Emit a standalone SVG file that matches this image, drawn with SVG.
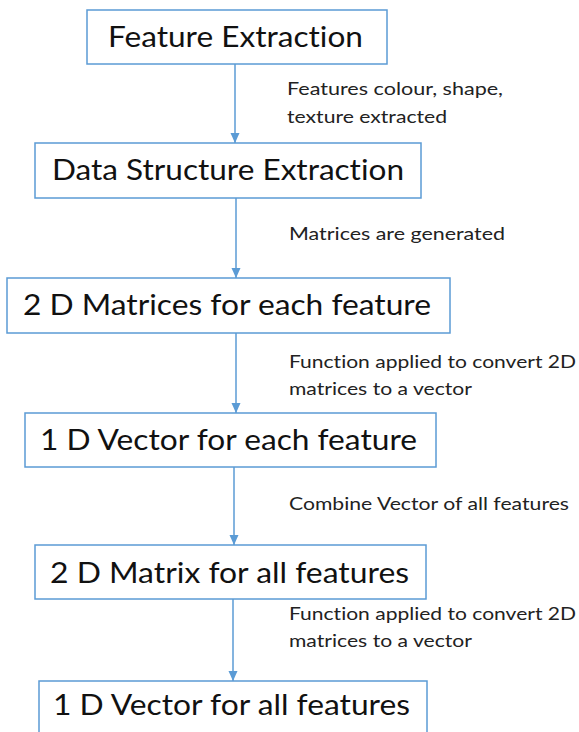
<svg xmlns="http://www.w3.org/2000/svg" width="579" height="732" viewBox="0 0 579 732">
<defs>
<marker id="arr" markerUnits="userSpaceOnUse" markerWidth="10" markerHeight="10" viewBox="0 0 10 10" refX="10" refY="5" orient="auto">
<path d="M0,0.5 L10,5 L0,9.5 Z" fill="#5B9BD5"/>
</marker>
<style>
.box{fill:#fff;stroke:#5B9BD5;stroke-width:1.5}
.t{font-family:Lato,"Open Sans","Liberation Sans",sans-serif;font-size:29px;fill:#111;font-variant-ligatures:none;font-feature-settings:"liga" 0}
.l{font-family:Lato,"Open Sans","Liberation Sans",sans-serif;font-size:17px;fill:#222;font-variant-ligatures:none;font-feature-settings:"liga" 0}
.c{stroke:#5B9BD5;stroke-width:1.5;fill:none;marker-end:url(#arr)}
</style>
</defs>
<rect width="579" height="732" fill="#fff"/>
<g id="connectors">
<line class="c" x1="235" y1="64" x2="235" y2="143"/>
<line class="c" x1="236" y1="198" x2="236" y2="278"/>
<line class="c" x1="236" y1="333" x2="236" y2="413"/>
<line class="c" x1="234" y1="467" x2="234" y2="545"/>
<line class="c" x1="233" y1="599" x2="233" y2="681"/>
<text class="l" x="287" y="95" textLength="216" lengthAdjust="spacingAndGlyphs">Features colour, shape,</text>
<text class="l" x="287" y="123" textLength="160" lengthAdjust="spacingAndGlyphs">texture extracted</text>
<text class="l" x="289" y="240" textLength="216" lengthAdjust="spacingAndGlyphs">Matrices are generated</text>
<text class="l" x="289" y="368" textLength="287" lengthAdjust="spacingAndGlyphs">Function applied to convert 2D</text>
<text class="l" x="289" y="395" textLength="183" lengthAdjust="spacingAndGlyphs">matrices to a vector</text>
<text class="l" x="289" y="510" textLength="280" lengthAdjust="spacingAndGlyphs">Combine Vector of all features</text>
<text class="l" x="289" y="620" textLength="287" lengthAdjust="spacingAndGlyphs">Function applied to convert 2D</text>
<text class="l" x="289" y="647" textLength="183" lengthAdjust="spacingAndGlyphs">matrices to a vector</text>
</g>
<g id="n1"><rect class="box" x="87" y="10" width="300" height="54"/><text class="t" x="108" y="47" textLength="255" lengthAdjust="spacingAndGlyphs">Feature Extraction</text></g>
<g id="n2"><rect class="box" x="35" y="143" width="386" height="55"/><text class="t" x="52" y="180" textLength="352" lengthAdjust="spacingAndGlyphs">Data Structure Extraction</text></g>
<g id="n3"><rect class="box" x="7" y="278" width="443" height="55"/><text class="t" x="23" y="315" textLength="408" lengthAdjust="spacingAndGlyphs">2 D Matrices for each feature</text></g>
<g id="n4"><rect class="box" x="25" y="413" width="411" height="54"/><text class="t" x="40" y="450" textLength="377" lengthAdjust="spacingAndGlyphs">1 D Vector for each feature</text></g>
<g id="n5"><rect class="box" x="35" y="545" width="391" height="54"/><text class="t" x="50" y="583" textLength="359" lengthAdjust="spacingAndGlyphs">2 D Matrix for all features</text></g>
<g id="n6"><rect class="box" x="39" y="681" width="388" height="60"/><text class="t" x="53" y="715" textLength="357" lengthAdjust="spacingAndGlyphs">1 D Vector for all features</text></g>
</svg>
